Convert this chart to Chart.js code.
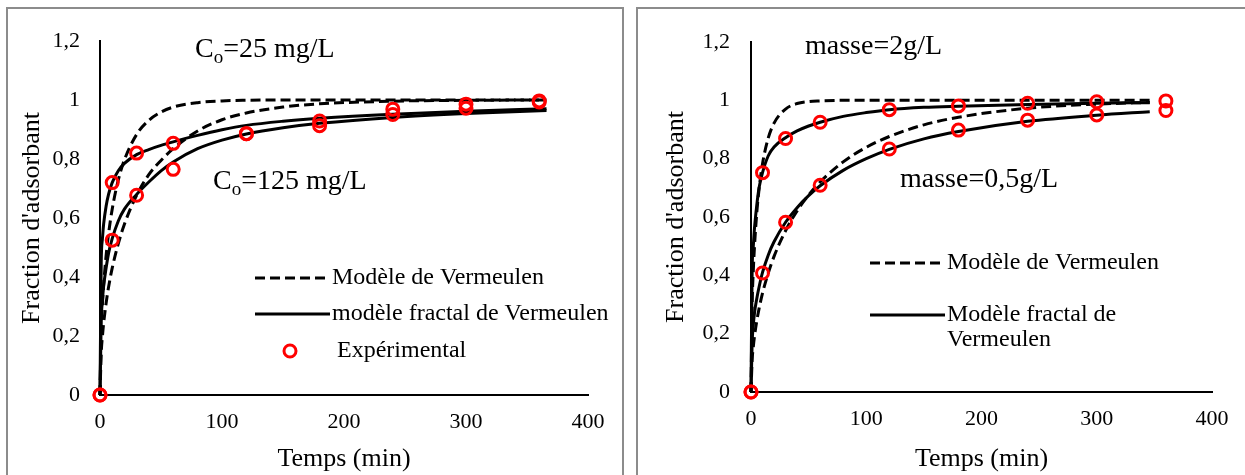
<!DOCTYPE html>
<html lang="fr">
<head>
<meta charset="UTF-8">
<title>Cinétique d'adsorption - modèle de Vermeulen</title>
<script src="https://cdn.jsdelivr.net/npm/chart.js"></script>
<style>
    body { margin: 0; background: #fff; width: 1245px; height: 475px; overflow: hidden; position: relative; }
    .cadre { position: absolute; top: 7px; height: 520px; border: 2px solid #8c8c8c; box-sizing: border-box; }
    #cadre1 { left: 6px; width: 618px; }
    #cadre2 { left: 636px; width: 640px; }
    canvas { position: absolute; top: 10px; }
    #graphe1 { left: 9px; }
    #graphe2 { left: 640px; }
</style>
</head>
<body>
<div class="cadre" id="cadre1"></div>
<div class="cadre" id="cadre2"></div>
<canvas id="graphe1" width="612" height="465"></canvas>
<canvas id="graphe2" width="605" height="465"></canvas>

<script>
// temps des mesures (min)
const tExp = [0, 10, 30, 60, 120, 180, 240, 300, 360];

// effet de la concentration initiale
const expC25  = [0, 0.72, 0.82, 0.853, 0.886, 0.929, 0.969, 0.986, 0.997];
const expC125 = [0, 0.525, 0.677, 0.765, 0.886, 0.913, 0.951, 0.972, 0.993];
const tModC    = [0, 1, 2, 3, 5, 7, 10, 15, 20, 30, 40, 50, 60, 80, 100, 120, 150, 180, 240, 300, 366];
const vermC25  = [0, 0.22, 0.31, 0.375, 0.472, 0.546, 0.63, 0.729, 0.797, 0.883, 0.931, 0.959, 0.976, 0.991, 0.997, 0.999, 1, 1, 1, 1, 1];
const vermC125 = [0, 0.142, 0.2, 0.244, 0.311, 0.365, 0.43, 0.513, 0.579, 0.677, 0.747, 0.795, 0.835, 0.895, 0.933, 0.956, 0.976, 0.987, 0.996, 0.999, 1];
const fracC25  = [0, 0.45, 0.53, 0.58, 0.64, 0.68, 0.72, 0.76, 0.785, 0.815, 0.832, 0.846, 0.858, 0.88, 0.899, 0.914, 0.928, 0.938, 0.952, 0.962, 0.97];
const fracC125 = [0, 0.25, 0.32, 0.37, 0.43, 0.48, 0.53, 0.59, 0.63, 0.68, 0.722, 0.76, 0.79, 0.835, 0.864, 0.885, 0.906, 0.921, 0.941, 0.954, 0.964];

// effet de la masse d'adsorbant
const expM2  = [0, 0.752, 0.869, 0.925, 0.968, 0.981, 0.99, 0.995, 0.998];
const expM05 = [0, 0.408, 0.582, 0.709, 0.833, 0.898, 0.932, 0.95, 0.965];
const tModM   = [0, 1, 2, 3, 5, 7, 10, 15, 20, 30, 40, 50, 60, 80, 100, 120, 150, 180, 240, 300, 346];
const vermM2  = [0, 0.301, 0.416, 0.497, 0.614, 0.696, 0.783, 0.871, 0.922, 0.97, 0.989, 0.996, 0.998, 1, 1, 1, 1, 1, 1, 1, 1];
const vermM05 = [0, 0.11, 0.155, 0.19, 0.243, 0.286, 0.339, 0.408, 0.465, 0.553, 0.621, 0.675, 0.72, 0.789, 0.839, 0.876, 0.916, 0.942, 0.973, 0.987, 0.993];
const fracM2  = [0, 0.42, 0.5, 0.56, 0.64, 0.7, 0.752, 0.81, 0.84, 0.872, 0.895, 0.912, 0.925, 0.945, 0.958, 0.968, 0.976, 0.98, 0.986, 0.99, 0.992];
const fracM05 = [0, 0.17, 0.23, 0.27, 0.32, 0.36, 0.41, 0.47, 0.515, 0.582, 0.632, 0.673, 0.707, 0.76, 0.8, 0.832, 0.868, 0.893, 0.928, 0.949, 0.961];

// graduations
const etiquettesY = ['0', '0,2', '0,4', '0,6', '0,8', '1', '1,2'];
const etiquettesX = ['0', '100', '200', '300', '400'];

const famille = "'Liberation Serif', 'Times New Roman', serif";
Chart.defaults.font.family = famille;
Chart.defaults.color = '#000';

const pts = (ts, vs) => ts.map((t, i) => ({ x: t, y: vs[i] }));

function courbe(ts, vs, pointille) {
    return {
        type: 'line', data: pts(ts, vs), borderColor: '#000', borderWidth: 3,
        borderDash: pointille ? [10, 5] : [], pointRadius: 0,
        cubicInterpolationMode: 'monotone', clip: false
    };
}

function mesures(vs) {
    return {
        type: 'scatter', data: pts(tExp, vs), borderColor: '#ff0000',
        backgroundColor: 'rgba(0,0,0,0)', pointRadius: 6, pointBorderWidth: 3, clip: false
    };
}

// légende et étiquettes dessinées à la main dans la zone du graphe
const legendePerso = {
    id: 'legendePerso',
    afterDatasetsDraw(chart, args, opts) {
        const ctx = chart.ctx;
        ctx.save();
        ctx.fillStyle = '#000';
        ctx.textBaseline = 'middle';
        ctx.font = `${opts.taille}px ${famille}`;
        opts.entrees.forEach(e => {
            const ds = chart.data.datasets[e.jeu];
            if (ds.type === 'scatter') {
                ctx.beginPath();
                ctx.strokeStyle = ds.borderColor;
                ctx.lineWidth = ds.pointBorderWidth;
                ctx.arc(e.x + e.l / 2, e.y, ds.pointRadius, 0, Math.PI * 2);
                ctx.stroke();
            } else {
                ctx.beginPath();
                ctx.strokeStyle = ds.borderColor;
                ctx.lineWidth = ds.borderWidth;
                ctx.setLineDash(ds.borderDash);
                ctx.moveTo(e.x, e.y);
                ctx.lineTo(e.x + e.l, e.y);
                ctx.stroke();
                ctx.setLineDash([]);
            }
            e.texte.forEach((txt, k) => ctx.fillText(txt, e.tx, e.y + k * opts.interligne));
        });
        opts.notes.forEach(n => {
            let x = n.x;
            ctx.font = `${opts.tailleNote}px ${famille}`;
            ctx.fillText(n.avant, x, n.y);
            x += ctx.measureText(n.avant).width;
            if (n.indice) {
                ctx.font = `${Math.round(opts.tailleNote * 0.68)}px ${famille}`;
                ctx.fillText(n.indice, x, n.y + 8);
                x += ctx.measureText(n.indice).width;
                ctx.font = `${opts.tailleNote}px ${famille}`;
            }
            ctx.fillText(n.apres, x, n.y);
        });
        ctx.restore();
    }
};

function echelles(largeurY, hauteurX, padTitreY, padTicksY) {
    return {
        x: {
            type: 'linear', min: 0, max: 400,
            ticks: { stepSize: 100, padding: 14, maxRotation: 0, font: { size: 22 },
                     callback: v => etiquettesX[Math.round(v / 100)] },
            grid: { display: false, drawTicks: false },
            border: { display: true, color: '#000', width: 2 },
            title: { display: true, text: 'Temps (min)', font: { size: 26 }, padding: 0 },
            afterFit: s => { s.height = hauteurX; }
        },
        y: {
            type: 'linear', min: 0, max: 1.2,
            ticks: { stepSize: 0.2, padding: padTicksY, font: { size: 22, lineHeight: 1 },
                     callback: v => etiquettesY[Math.round(v / 0.2)] },
            grid: { display: false, drawTicks: false },
            border: { display: true, color: '#000', width: 2 },
            title: { display: true, text: "Fraction d'adsorbant", font: { size: 26 }, padding: { top: padTitreY } },
            afterFit: s => { s.width = largeurY; }
        }
    };
}

new Chart(document.getElementById('graphe1'), {
    data: {
        datasets: [
            mesures(expC25), mesures(expC125),
            courbe(tModC, vermC25, true), courbe(tModC, vermC125, true),
            courbe(tModC, fracC25, false), courbe(tModC, fracC125, false)
        ]
    },
    options: {
        responsive: false, animation: false, devicePixelRatio: 1,
        layout: { padding: { left: 0, top: 15, right: 33, bottom: 0 } },
        scales: echelles(91, 80, 8, 20),
        plugins: {
            legend: { display: false }, tooltip: { enabled: false },
            legendePerso: {
                taille: 24, tailleNote: 28, interligne: 26,
                entrees: [
                    { jeu: 2, x: 246, l: 75, y: 268, tx: 323, texte: ['Modèle de Vermeulen'] },
                    { jeu: 4, x: 246, l: 75, y: 304, tx: 323, texte: ['modèle fractal de Vermeulen'] },
                    { jeu: 0, x: 246, l: 70, y: 341, tx: 328, texte: ['Expérimental'] }
                ],
                notes: [
                    { x: 186, y: 40, avant: 'C', indice: 'o', apres: '=25 mg/L' },
                    { x: 204, y: 172, avant: 'C', indice: 'o', apres: '=125 mg/L' }
                ]
            }
        }
    },
    plugins: [legendePerso]
});

new Chart(document.getElementById('graphe2'), {
    data: {
        datasets: [
            mesures(expM2), mesures(expM05),
            courbe(tModM, vermM2, true), courbe(tModM, vermM05, true),
            courbe(tModM, fracM2, false), courbe(tModM, fracM05, false)
        ]
    },
    options: {
        responsive: false, animation: false, devicePixelRatio: 1,
        layout: { padding: { left: 0, top: 12, right: 33, bottom: 0 } },
        scales: echelles(111, 83, 21, 21),
        plugins: {
            legend: { display: false }, tooltip: { enabled: false },
            legendePerso: {
                taille: 24, tailleNote: 28, interligne: 25,
                entrees: [
                    { jeu: 2, x: 230, l: 75, y: 253, tx: 307, texte: ['Modèle de Vermeulen'] },
                    { jeu: 4, x: 230, l: 75, y: 305, tx: 307, texte: ['Modèle fractal de', 'Vermeulen'] }
                ],
                notes: [
                    { x: 165, y: 37, avant: 'masse=2g/L', apres: '' },
                    { x: 260, y: 170, avant: 'masse=0,5g/L', apres: '' }
                ]
            }
        }
    },
    plugins: [legendePerso]
});
</script>
</body>
</html>
